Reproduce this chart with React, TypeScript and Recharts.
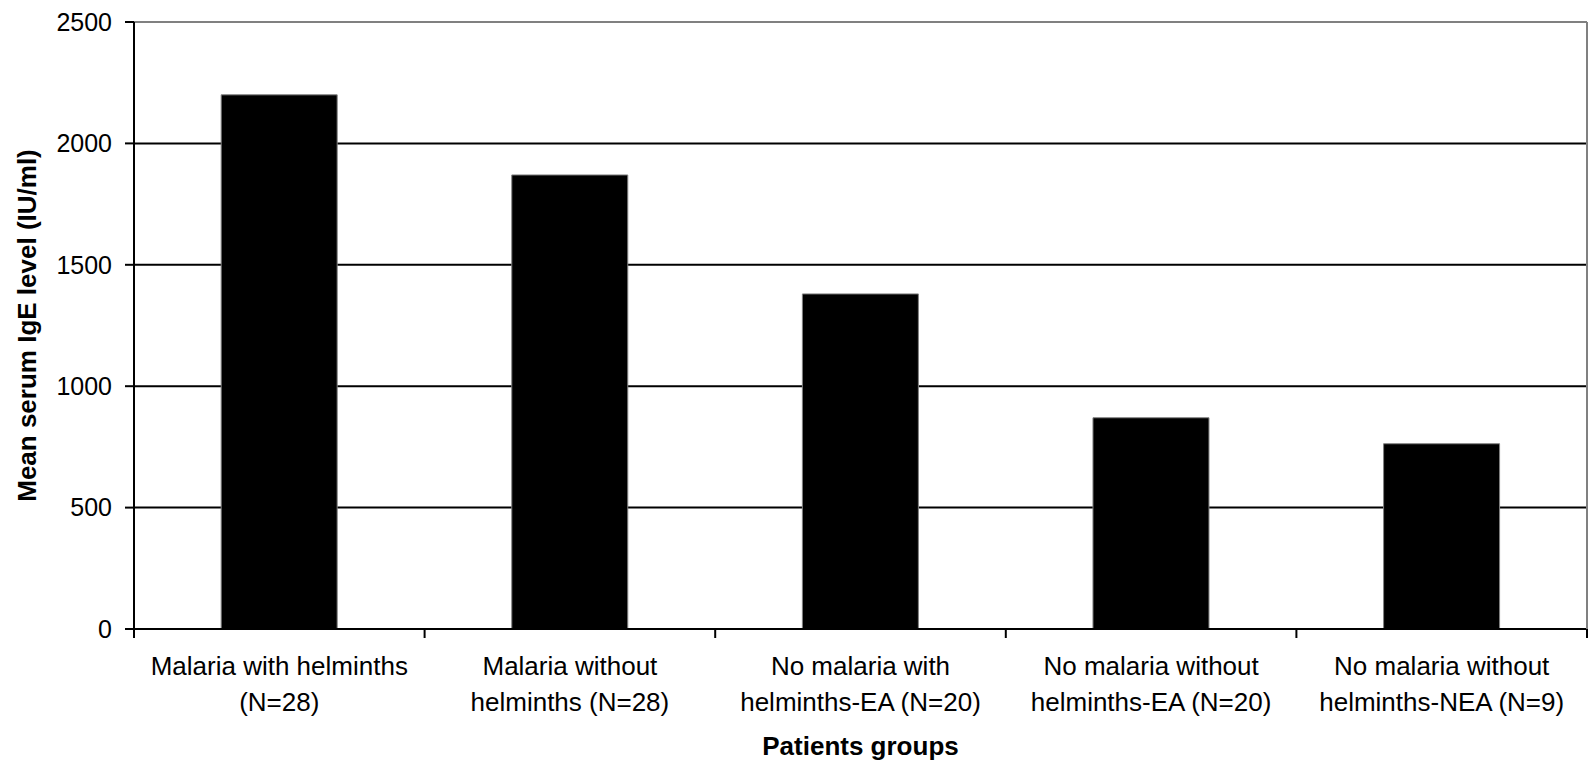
import React from "react";
import { BarChart, Bar, XAxis, YAxis, CartesianGrid, ReferenceLine } from "recharts";

const categoryLine1 = [
  "Malaria with helminths",
  "Malaria without",
  "No malaria with",
  "No malaria without",
  "No malaria without",
];
const categoryLine2 = [
  "(N=28)",
  "helminths (N=28)",
  "helminths-EA (N=20)",
  "helminths-EA (N=20)",
  "helminths-NEA (N=9)",
];
const meanIgE = [2200, 1870, 1380, 870, 763];
const yTicks = [0, 500, 1000, 1500, 2000, 2500];

const data = categoryLine1.map((c, i) => ({
  name: c + " " + categoryLine2[i],
  value: meanIgE[i],
}));

const FONT = "'Liberation Sans', Arial, sans-serif";
const TICK_LEN = 9;

const CatTick = (props: any) => {
  const { x, y, index, width, visibleTicksCount } = props;
  const n = visibleTicksCount || categoryLine1.length;
  const band = (width || 1453) / n;
  const axisY = y - TICK_LEN;
  const isLast = index === n - 1;
  return (
    <g>
      <line x1={x - band / 2} x2={x - band / 2} y1={axisY} y2={axisY + TICK_LEN} stroke="#000" strokeWidth={2} />
      {isLast && (
        <line x1={x + band / 2} x2={x + band / 2} y1={axisY} y2={axisY + TICK_LEN} stroke="#000" strokeWidth={2} />
      )}
      <text x={x} y={y} textAnchor="middle" fontSize={26} fontFamily={FONT} fill="#000">
        <tspan x={x} dy={37}>{categoryLine1[index]}</tspan>
        <tspan x={x} dy={36}>{categoryLine2[index]}</tspan>
      </text>
    </g>
  );
};

const YLabel = (props: any) => {
  const vb = props.viewBox || {};
  const cy = (vb.y ?? 22) + (vb.height ?? 607) / 2;
  const cx = 36;
  return (
    <text
      x={cx}
      y={cy}
      transform={`rotate(-90, ${cx}, ${cy})`}
      textAnchor="middle"
      fontSize={26}
      fontWeight="bold"
      fontFamily={FONT}
      fill="#000"
    >
      Mean serum IgE level (IU/ml)
    </text>
  );
};

const XLabel = (props: any) => {
  const vb = props.viewBox || {};
  const cx = (vb.x ?? 134) + (vb.width ?? 1453) / 2;
  const y = (vb.y ?? 629) + 126;
  return (
    <text x={cx} y={y} textAnchor="middle" fontSize={26} fontWeight="bold" fontFamily={FONT} fill="#000">
      Patients groups
    </text>
  );
};

export default function App() {
  return (
    <div style={{ position: "absolute", left: 0, top: 0, width: 1589, height: 762, background: "#fff" }}>
      <BarChart
        width={1589}
        height={762}
        data={data}
        margin={{ top: 22, right: 0, left: 0, bottom: 0 }}
        barCategoryGap="30%"
      >
        <CartesianGrid xAxisId="cat" yAxisId="left" vertical={false} stroke="#000" strokeWidth={2} />
        <XAxis
          xAxisId="cat"
          dataKey="name"
          height={133}
          interval={0}
          tickSize={TICK_LEN}
          tickMargin={0}
          axisLine={{ stroke: "#000", strokeWidth: 2 }}
          tickLine={false}
          tick={<CatTick />}
          label={<XLabel />}
        />
        <YAxis
          yAxisId="left"
          width={134}
          domain={[0, 2500]}
          ticks={yTicks}
          interval={0}
          tickSize={TICK_LEN}
          tickMargin={13}
          axisLine={{ stroke: "#000", strokeWidth: 2 }}
          tickLine={{ stroke: "#000", strokeWidth: 2 }}
          tick={{ fontSize: 25, fontFamily: FONT, fill: "#000" }}
          label={<YLabel />}
        />
        <YAxis
          yAxisId="r"
          orientation="right"
          width={2}
          domain={[0, 2500]}
          tick={false}
          tickLine={false}
          axisLine={{ stroke: "#808080", strokeWidth: 2 }}
        />
        <Bar
          xAxisId="cat"
          yAxisId="left"
          dataKey="value"
          fill="#000"
          stroke="#808080"
          strokeWidth={1}
          isAnimationActive={false}
        />
        <ReferenceLine xAxisId="cat" yAxisId="left" y={2500} stroke="#808080" strokeWidth={2} />
      </BarChart>
    </div>
  );
}
